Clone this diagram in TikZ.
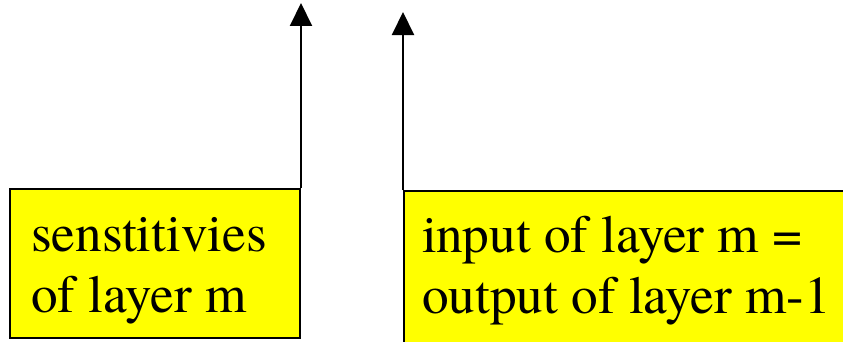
\documentclass[tikz,border=0pt]{standalone}
\usepackage{fontspec}
\setmainfont{texgyretermes-regular.otf}
\usetikzlibrary{arrows.meta}
\definecolor{ylw}{RGB}{255,255,0}
\begin{document}
\begin{tikzpicture}[x=1pt,y=1pt,
  ybox/.style={draw=black, line width=2pt, fill=ylw, rectangle, inner sep=0pt, anchor=south west},
  btext/.style={font=\fontsize{53.2}{61}\selectfont, align=left, inner sep=0pt, anchor=base west},
  uparrow/.style={line width=2pt, -{Triangle[width=22pt,length=23pt]}}]
\useasboundingbox (0,0) rectangle (843,341);
\node[ybox, minimum width=290pt, minimum height=149pt] (sens) at (9,2) {};
\node[ybox, minimum width=450pt, minimum height=153pt] (inp) at (403,-4) {};
\node[btext] (senst) at (31,29) {senstitivies\\of layer m};
\node[btext] (inpt) at (422,28) {input of layer m =\\output of layer m-1};
\coordinate (tipL) at ([yshift=185pt]sens.north east);
\coordinate (tipR) at ([yshift=178pt]inp.north west);
\draw[uparrow] (sens.north east) -- (tipL);
\draw[uparrow] (inp.north west) -- (tipR);
\end{tikzpicture}
\end{document}
